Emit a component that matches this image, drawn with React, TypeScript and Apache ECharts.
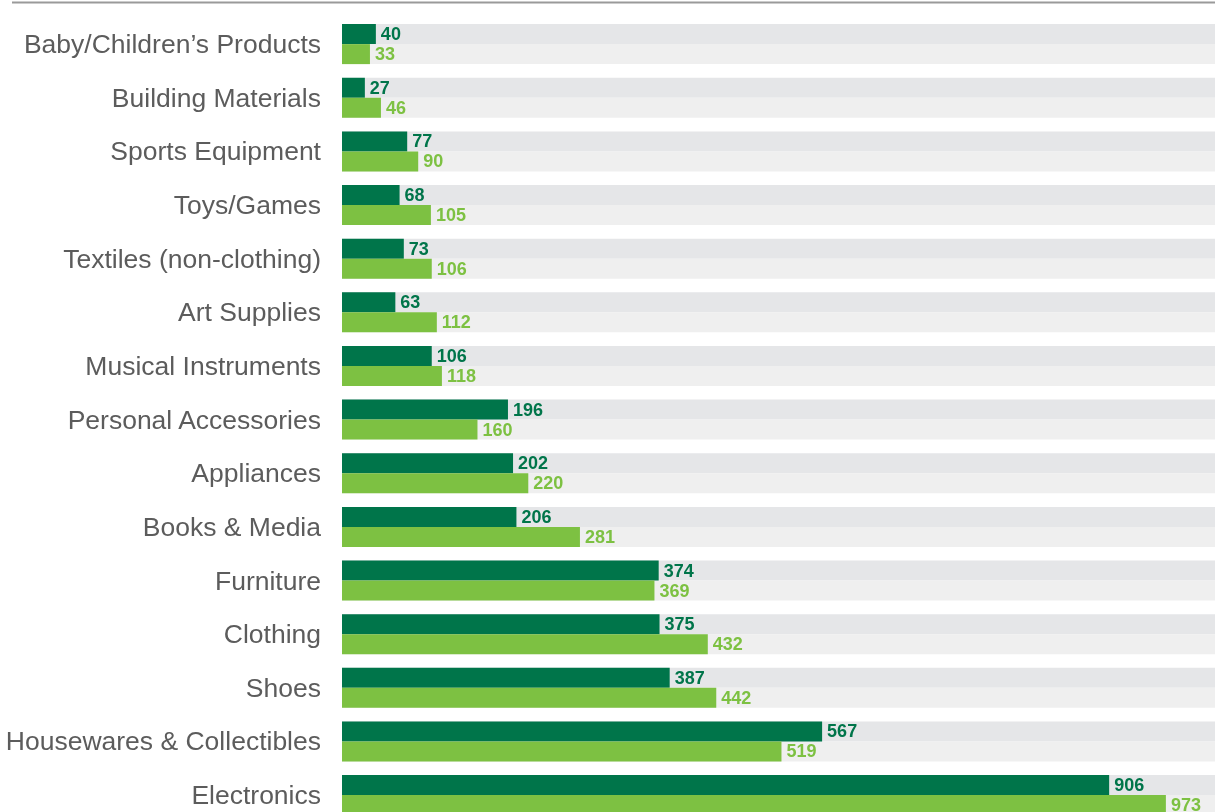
import React, { useEffect, useRef } from "react";
import * as echarts from "echarts";

const categories = [
  "Baby/Children\u2019s Products",
  "Building Materials",
  "Sports Equipment",
  "Toys/Games",
  "Textiles (non-clothing)",
  "Art Supplies",
  "Musical Instruments",
  "Personal Accessories",
  "Appliances",
  "Books & Media",
  "Furniture",
  "Clothing",
  "Shoes",
  "Housewares & Collectibles",
  "Electronics",
];
const darkValues = [40, 27, 77, 68, 73, 63, 106, 196, 202, 206, 374, 375, 387, 567, 906];
const lightValues = [33, 46, 90, 105, 106, 112, 118, 160, 220, 281, 369, 432, 442, 519, 973];
const axisMax = 1031;

export default function App() {
  const ref = useRef<HTMLDivElement>(null);
  useEffect(() => {
    document.body.style.margin = "0";
    document.body.style.overflow = "hidden";
    const chart = echarts.init(ref.current!, undefined, { renderer: "svg" });
    const valueLabel = (color: string) => ({
      show: true,
      position: "right",
      distance: 5,
      color,
      fontWeight: "bold",
      fontSize: 18,
      fontFamily: "Liberation Sans, Arial, sans-serif",
    });
    chart.setOption({
      animation: false,
      graphic: [
        {
          type: "line",
          shape: { x1: 12, y1: 2.5, x2: 1215, y2: 2.5 },
          style: { stroke: "#9a9a9a", lineWidth: 2 },
        },
      ],
      grid: { left: 342, right: 0, top: 17.3, height: 804.6, containLabel: false },
      xAxis: {
        type: "value",
        min: 0,
        max: axisMax,
        show: false,
      },
      yAxis: {
        type: "category",
        data: categories,
        inverse: true,
        axisLine: { show: false },
        axisTick: { show: false },
        splitLine: { show: false },
        axisLabel: {
          margin: 21,
          fontFamily: "Liberation Sans, Arial, sans-serif",
          fontSize: 26.5,
          color: "#5c5c5c",
        },
      },
      series: [
        {
          type: "bar",
          data: darkValues,
          barWidth: 20,
          barGap: "0%",
          itemStyle: { color: "#00754a" },
          showBackground: true,
          backgroundStyle: { color: "#e5e6e8" },
          label: valueLabel("#00754a"),
        },
        {
          type: "bar",
          data: lightValues,
          barWidth: 20,
          barGap: "0%",
          itemStyle: { color: "#7dc142" },
          showBackground: true,
          backgroundStyle: { color: "#efefef" },
          label: valueLabel("#7dc142"),
        },
      ],
    });
    return () => chart.dispose();
  }, []);
  return (
    <div style={{ position: "fixed", left: 0, top: 0, width: 1215, height: 812, overflow: "hidden" }}>
      <div ref={ref} style={{ width: 1215, height: 830 }} />
    </div>
  );
}
